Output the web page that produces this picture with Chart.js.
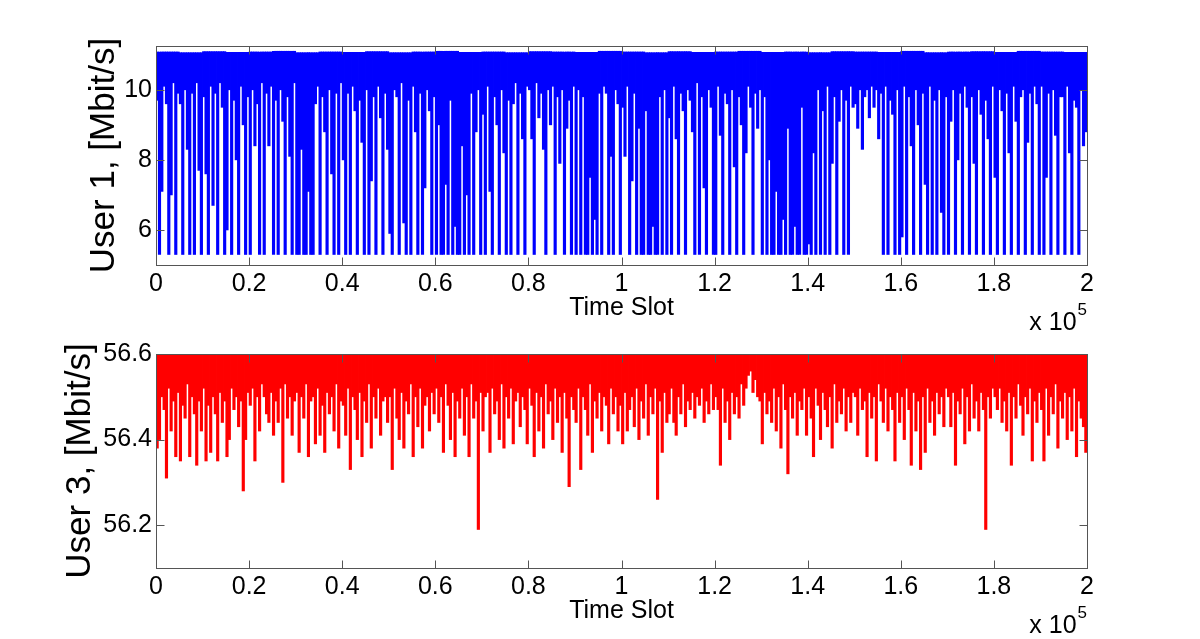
<!DOCTYPE html>
<html>
<head>
<meta charset="utf-8">
<title>User rates per time slot</title>
<script src="https://cdn.jsdelivr.net/npm/chart.js@4.4.1/dist/chart.umd.min.js"></script>
<style>
  body { margin: 0; background: #fff; }
  #wrap { position: relative; width: 1200px; height: 639px; overflow: hidden; }
  canvas { position: absolute; left: 0; }
  #user1Chart { top: 0; }
  #user3Chart { top: 335px; }
</style>
</head>
<body>
<div id="wrap">
  <canvas id="user1Chart" width="1200" height="335"></canvas>
  <canvas id="user3Chart" width="1200" height="304"></canvas>
</div>
<script>
// Data: the 2e5 time slots are shown as 400 bins of 500 slots.
// For each bin: the lowest rate seen (Low) and the peak rate (Peak, one per 10 bins).
const slotStep = 500;
const xTickLabels = ["0", "0.2", "0.4", "0.6", "0.8", "1", "1.2", "1.4", "1.6", "1.8", "2"];
const user1Ticks = [6, 8, 10];
const user3Ticks = [56.2, 56.4, 56.6];

// User 1, Mbit/s
const user1Low = [
  9.7, 5.3, 7.1, 10.1, 9.6, 5.3, 7.0, 10.2, 5.3, 9.9, 9.6, 5.3, 10.0, 8.3, 5.3, 9.9, 5.3, 10.2, 7.7, 5.3,
  9.8, 7.6, 5.3, 10.1, 6.7, 9.9, 5.3, 10.2, 9.5, 5.3, 6.0, 10.0, 5.3, 9.7, 8.0, 5.3, 10.1, 9.0, 5.3, 9.8,
  5.3, 10.0, 8.4, 9.6, 5.3, 10.2, 5.3, 9.9, 8.4, 10.1, 5.3, 9.7, 5.3, 10.0, 9.1, 5.3, 9.8, 8.1, 5.3, 10.2,
  5.3, 5.3, 8.3, 5.3, 5.3, 7.1, 5.3, 5.3, 9.6, 10.1, 5.3, 9.8, 8.8, 5.3, 10.0, 7.6, 5.3, 9.9, 5.3, 10.2,
  8.0, 5.3, 9.9, 5.3, 10.1, 9.4, 5.3, 9.7, 8.5, 5.3, 10.0, 5.3, 7.4, 9.8, 5.3, 10.1, 9.2, 5.3, 9.9, 8.3,
  5.9, 5.3, 10.0, 9.8, 5.3, 10.2, 6.2, 5.3, 9.7, 5.3, 10.1, 8.8, 5.3, 9.9, 5.3, 7.2, 10.0, 9.4, 5.3, 9.8,
  5.3, 9.0, 5.3, 5.3, 7.3, 5.3, 9.7, 5.3, 6.1, 5.3, 5.3, 8.4, 5.3, 7.0, 5.3, 9.9, 5.3, 8.8, 10.0, 5.3,
  9.3, 5.3, 10.1, 7.1, 5.3, 9.8, 9.0, 5.3, 10.0, 8.2, 5.3, 9.7, 5.3, 9.6, 10.2, 5.3, 9.9, 8.6, 5.3, 10.1,
  10.0, 8.6, 5.3, 10.2, 9.2, 9.9, 8.3, 5.3, 10.0, 9.0, 10.1, 5.3, 9.8, 7.9, 10.0, 5.3, 8.9, 9.7, 5.3, 10.1,
  5.3, 10.0, 5.3, 9.8, 5.3, 5.3, 7.5, 5.3, 6.3, 5.3, 9.9, 5.3, 10.1, 9.9, 5.3, 8.1, 5.3, 10.0, 9.6, 5.3,
  9.5, 8.1, 10.1, 5.3, 7.4, 9.9, 5.3, 8.9, 5.3, 5.3, 9.4, 5.3, 5.3, 6.1, 5.3, 5.3, 9.8, 5.3, 10.0, 5.3,
  9.2, 5.3, 10.1, 8.6, 5.3, 9.9, 9.4, 5.3, 10.0, 9.7, 8.8, 5.3, 10.2, 5.3, 9.8, 7.2, 5.3, 10.0, 9.5, 5.3,
  5.3, 10.1, 8.7, 5.3, 9.9, 9.6, 5.3, 10.0, 7.8, 5.3, 9.8, 9.0, 5.3, 8.2, 10.1, 9.5, 5.3, 9.9, 8.9, 10.0,
  5.3, 9.8, 5.3, 8.0, 5.3, 5.3, 7.1, 5.3, 5.3, 6.3, 5.3, 8.9, 5.3, 5.3, 6.1, 5.3, 5.3, 9.5, 5.3, 5.3,
  5.6, 5.3, 8.2, 5.3, 10.0, 5.3, 9.4, 5.3, 10.1, 5.3, 7.9, 9.8, 5.3, 9.1, 10.0, 5.3, 9.7, 5.3, 10.1, 9.5,
  9.6, 8.9, 10.0, 8.3, 9.8, 10.0, 9.2, 10.1, 9.5, 10.0, 8.6, 9.9, 5.3, 10.1, 5.3, 9.7, 9.3, 5.3, 10.0, 5.3,
  5.8, 10.1, 5.3, 9.8, 8.4, 5.3, 10.0, 9.0, 5.3, 9.9, 7.3, 5.3, 10.1, 5.3, 9.7, 5.3, 10.0, 6.5, 5.3, 9.8,
  5.3, 9.1, 10.0, 5.3, 8.0, 9.9, 5.3, 10.1, 9.5, 5.3, 9.8, 7.9, 5.3, 10.0, 9.3, 5.3, 9.7, 8.6, 5.3, 10.1,
  7.5, 5.3, 10.0, 9.4, 5.3, 9.9, 8.2, 5.3, 10.1, 9.1, 5.3, 9.8, 10.0, 5.3, 8.5, 9.9, 5.3, 10.1, 9.6, 5.3,
  10.1, 5.3, 7.5, 9.9, 5.3, 10.0, 8.7, 5.3, 9.8, 9.8, 5.3, 10.1, 8.2, 5.3, 9.7, 9.5, 5.3, 10.0, 8.4, 8.8
];
const user1Peak = [
  11.08, 11.06, 11.09, 11.07, 11.08, 11.10, 11.06, 11.08, 11.07, 11.09,
  11.06, 11.08, 11.10, 11.07, 11.08, 11.06, 11.09, 11.08, 11.07, 11.10,
  11.08, 11.06, 11.09, 11.07, 11.08, 11.10, 11.07, 11.08, 11.06, 11.09,
  11.08, 11.07, 11.10, 11.06, 11.08, 11.09, 11.07, 11.10, 11.08, 11.07
];

// User 3, Mbit/s
const user3Low = [
  56.38, 56.40, 56.50, 56.47, 56.31, 56.52, 56.42, 56.49, 56.36, 56.51, 56.35, 56.48, 56.45, 56.53, 56.36, 56.50, 56.46, 56.34, 56.49, 56.42,
  56.52, 56.35, 56.48, 56.37, 56.50, 56.46, 56.35, 56.51, 56.44, 56.49, 56.36, 56.40, 56.52, 56.47, 56.50, 56.43, 56.49, 56.28, 56.40, 56.51,
  56.48, 56.52, 56.35, 56.50, 56.42, 56.53, 56.50, 56.46, 56.44, 56.51, 56.41, 56.49, 56.44, 56.52, 56.30, 56.53, 56.45, 56.50, 56.41, 56.49,
  56.51, 56.37, 56.50, 56.45, 56.53, 56.36, 56.49, 56.50, 56.39, 56.52, 56.41, 56.48, 56.37, 56.51, 56.46, 56.50, 56.42, 56.53, 56.38, 56.49,
  56.48, 56.41, 56.52, 56.33, 56.50, 56.47, 56.40, 56.51, 56.36, 56.49, 56.44, 56.53, 56.38, 56.50, 56.45, 56.52, 56.41, 56.49, 56.50, 56.44,
  56.50, 56.33, 56.52, 56.45, 56.40, 56.51, 56.38, 56.49, 56.46, 56.53, 56.36, 56.50, 56.43, 56.52, 56.38, 56.48, 56.50, 56.42, 56.51, 56.46,
  56.52, 56.44, 56.50, 56.37, 56.53, 56.48, 56.40, 56.51, 56.36, 56.49, 56.45, 56.52, 56.41, 56.50, 56.36, 56.53, 56.45, 56.49, 56.19, 56.51,
  56.42, 56.50, 56.51, 56.37, 56.52, 56.46, 56.49, 56.40, 56.53, 56.38, 56.50, 56.45, 56.52, 56.39, 56.49, 56.51, 56.43, 56.50, 56.47, 56.39,
  56.52, 56.48, 56.36, 56.51, 56.42, 56.50, 56.38, 56.53, 56.46, 56.49, 56.40, 56.52, 56.44, 56.50, 56.37, 56.51, 56.45, 56.29, 56.50, 56.47,
  56.44, 56.52, 56.33, 56.50, 56.47, 56.41, 56.53, 56.37, 56.49, 56.45, 56.51, 56.42, 56.50, 56.48, 56.39, 56.52, 56.46, 56.50, 56.42, 56.48,
  56.39, 56.51, 56.42, 56.47, 56.50, 56.43, 56.52, 56.40, 56.49, 56.45, 56.53, 56.41, 56.50, 56.46, 56.52, 56.26, 56.49, 56.37, 56.51, 56.44,
  56.46, 56.52, 56.44, 56.41, 56.50, 56.46, 56.53, 56.43, 56.49, 56.47, 56.51, 56.45, 56.50, 56.48, 56.52, 56.44, 56.49, 56.46, 56.53, 56.47,
  56.50, 56.47, 56.34, 56.52, 56.44, 56.49, 56.40, 56.51, 56.46, 56.50, 56.45, 56.53, 56.48, 56.52, 56.55, 56.56, 56.51, 56.54, 56.50, 56.49,
  56.39, 56.51, 56.46, 56.49, 56.44, 56.52, 56.42, 56.50, 56.38, 56.53, 56.47, 56.32, 56.50, 56.45, 56.51, 56.41, 56.49, 56.47, 56.52, 56.41,
  56.50, 56.45, 56.36, 56.52, 56.48, 56.40, 56.51, 56.47, 56.43, 56.50, 56.38, 56.53, 56.44, 56.49, 56.46, 56.52, 56.42, 56.50, 56.44, 56.51,
  56.50, 56.41, 56.52, 56.47, 56.49, 56.36, 56.51, 56.45, 56.50, 56.35, 56.53, 56.49, 56.44, 56.52, 56.42, 56.50, 56.47, 56.35, 56.51, 56.44,
  56.50, 56.40, 56.52, 56.47, 56.34, 56.51, 56.42, 56.49, 56.33, 56.50, 56.37, 56.52, 56.44, 56.49, 56.41, 56.51, 56.46, 56.50, 56.43, 56.52,
  56.50, 56.43, 56.51, 56.34, 56.49, 56.46, 56.52, 56.39, 56.50, 56.42, 56.53, 56.45, 56.49, 56.42, 56.51, 56.47, 56.19, 56.50, 56.45, 56.52,
  56.50, 56.47, 56.52, 56.44, 56.49, 56.42, 56.51, 56.34, 56.50, 56.45, 56.53, 56.48, 56.41, 56.50, 56.46, 56.52, 56.35, 56.49, 56.44, 56.51,
  56.47, 56.35, 56.52, 56.41, 56.50, 56.46, 56.53, 56.38, 56.49, 56.45, 56.51, 56.40, 56.50, 56.42, 56.52, 56.36, 56.49, 56.45, 56.43, 56.37
];
const user3Peak = [
  56.600, 56.597, 56.600, 56.605, 56.598, 56.600, 56.605, 56.597, 56.600, 56.600,
  56.598, 56.605, 56.600, 56.597, 56.600, 56.605, 56.600, 56.598, 56.600, 56.605,
  56.600, 56.597, 56.605, 56.600, 56.598, 56.605, 56.600, 56.600, 56.597, 56.605,
  56.600, 56.598, 56.600, 56.605, 56.600, 56.597, 56.605, 56.600, 56.598, 56.600
];

const fontFamily = "'Liberation Sans', Arial, Helvetica, sans-serif";

// MATLAB-like box, inward ticks and axis texts
const matlabFrame = {
  id: "matlabFrame",
  afterDraw(chart, args, opts) {
    const { ctx, chartArea: a, scales } = chart;
    const left = Math.round(a.left) + 0.5;
    const right = Math.round(a.right) + 0.5;
    const top = Math.round(a.top) + 0.5;
    const bottom = Math.round(a.bottom) + 0.5;
    ctx.save();
    ctx.strokeStyle = "#555";
    ctx.lineWidth = 1;
    ctx.beginPath();
    scales.x.ticks.forEach((t) => {
      const px = Math.round(scales.x.getPixelForValue(t.value)) + 0.5;
      ctx.moveTo(px, bottom); ctx.lineTo(px, bottom - 8);
      ctx.moveTo(px, top); ctx.lineTo(px, top + 8);
    });
    scales.y.ticks.forEach((t) => {
      const py = Math.round(scales.y.getPixelForValue(t.value)) + 0.5;
      ctx.moveTo(left, py); ctx.lineTo(left + 8, py);
      ctx.moveTo(right, py); ctx.lineTo(right - 8, py);
    });
    ctx.stroke();
    ctx.strokeRect(left, top, right - left, bottom - top);

    ctx.fillStyle = "#000";
    ctx.font = "25px " + fontFamily;
    ctx.textAlign = "center";
    ctx.textBaseline = "middle";
    ctx.fillText("Time Slot", (a.left + a.right) / 2, a.bottom + 43);

    // x 10^5 multiplier
    ctx.textAlign = "right";
    ctx.textBaseline = "alphabetic";
    ctx.font = "17px " + fontFamily;
    ctx.fillText("5", a.right, a.bottom + 50);
    const w5 = ctx.measureText("5").width;
    ctx.font = "25px " + fontFamily;
    ctx.fillText("x 10", a.right - w5 - 1, a.bottom + 65);

    // y title
    ctx.translate(opts.titleX, (a.top + a.bottom) / 2);
    ctx.rotate(-Math.PI / 2);
    ctx.font = "35px " + fontFamily;
    ctx.textAlign = "center";
    ctx.fillText(opts.title, 0, 0);
    ctx.restore();
  },
};

function makeChart(canvasId, low, peak, color, yMin, yMax, yTicks, title, titleX, areaTop, xHeight) {
  const ctx = document.getElementById(canvasId).getContext("2d");
  // each bin drawn as a vertical stroke from its lowest to its peak rate
  const bins = low.map((v, i) => ({
    x: (i + 0.5) * slotStep,
    y: [v, peak[Math.floor(i / 10)]],
  }));
  return new Chart(ctx, {
    type: "bar",
    data: {
      datasets: [
        {
          data: bins,
          backgroundColor: color,
          borderWidth: 0,
          barThickness: 2.5,
        },
      ],
    },
    options: {
      responsive: false,
      animation: false,
      events: [],
      layout: { padding: { top: areaTop, right: 113, bottom: 0, left: 0 } },
      plugins: {
        legend: { display: false },
        tooltip: { enabled: false },
        matlabFrame: { title: title, titleX: titleX },
      },
      scales: {
        x: {
          type: "linear",
          min: 0,
          max: 200000,
          offset: false,
          grid: { display: false, offset: false, drawTicks: false },
          border: { display: false },
          ticks: {
            stepSize: 20000,
            maxRotation: 0,
            autoSkip: false,
            padding: 4,
            color: "#000",
            font: { size: 25, family: fontFamily },
            callback: (v, i) => xTickLabels[i],
          },
          afterFit: (s) => { s.height = xHeight; },
        },
        y: {
          min: yMin,
          max: yMax,
          grid: { display: false, drawTicks: false },
          border: { display: false },
          afterBuildTicks: (s) => { s.ticks = yTicks.map((v) => ({ value: v })); },
          ticks: {
            padding: 4,
            color: "#000",
            font: { size: 25, family: fontFamily },
            callback: (v) => String(v),
          },
          afterFit: (s) => { s.width = 156; },
        },
      },
    },
    plugins: [matlabFrame],
  });
}

makeChart("user1Chart", user1Low, user1Peak, "#0000ff", 5, 11.25, user1Ticks, "User 1, [Mbit/s]", 114, 46, 70);
makeChart("user3Chart", user3Low, user3Peak, "#ff0000", 56.1, 56.6, user3Ticks, "User 3, [Mbit/s]", 90, 16, 71);
</script>
</body>
</html>
